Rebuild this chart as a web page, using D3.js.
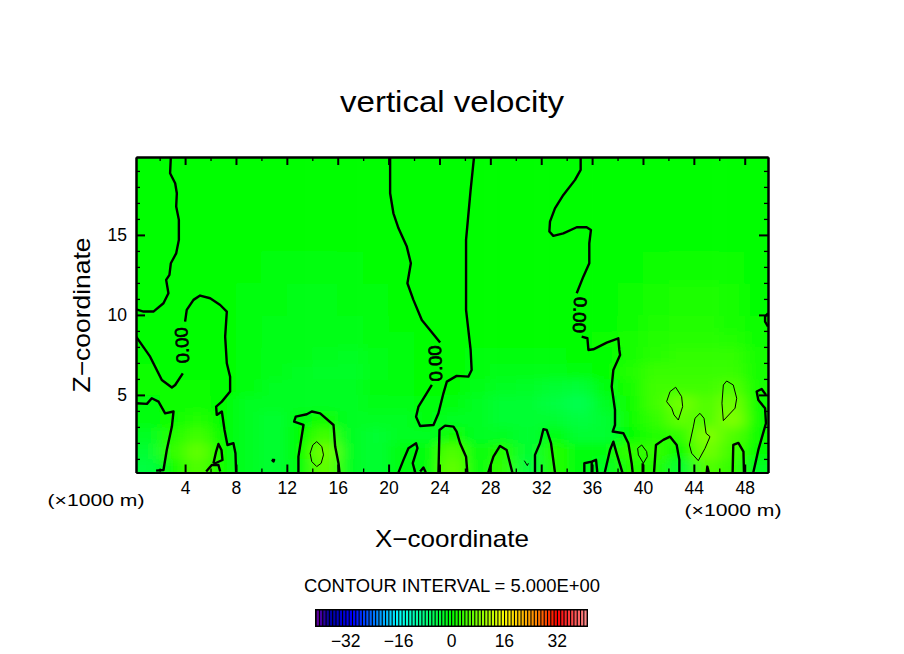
<!DOCTYPE html>
<html>
<head>
<meta charset="utf-8">
<script src="https://cdn.jsdelivr.net/npm/d3@7"></script>
<style>
  html, body { margin: 0; background: #fff; }
  text { font-family: "Liberation Sans", sans-serif; fill: #000; }
</style>
</head>
<body>
<script>
// w field, km. columns are 2 km wide, rows given by zEdges
var xCenters = [1,3,5,7,9,11,13,15,17,19,21,23,25,27,29,31,33,35,37,39,41,43,45,47,49];
var zEdges = [0,1,2,3,4,5,6,7,8,9,10,12,14,16,18,20];
var w_z00 = [-4,1,5,1,-2,-3,-1,6,-2,-3,-1,-1,6,-1,3,-4,2,-1,-2,2,2,-3,5,3,-2];
var w_z01 = [-3,3,6,1,-2,-3,0,7,-2,-3,-1,-1,5,-1,2,-3,2,-1,-1,3,3,0,7,4,0];
var w_z02 = [-2,2,4,0,-2,-3,0,4,-2,-3,-2,-2,1,-2,-2,-3,-1,-3,-3,0,2,3,8,5,1];
var w_z03 = [-1,1,2,0,-2,-3,-1,1,-2,-2,-2,-1,-2,-2,-3,-3,-3,-4,-3,1,3,6,5,8,1];
var w_z04 = [-0.5,1,1,0,-2,-2,-2,-2,-2,-1.5,-1.5,-0.5,-1,-2,-3,-3,-4,-5,-2,1,4,7,5,7,1];
var w_z05 = [0.5,0.5,0.5,0.2,-1,-2,-2,-2,-2,-1,-0.5,-0.3,0.3,-1.5,-2,-2.5,-3,-3.5,-1,1.5,4,4,4,5,1.5];
var w_z06 = [0.5,0.3,0.3,0.2,-1,-1.5,-2,-2.5,-2.5,-1.5,-0.5,-0.2,-0.3,-0.8,-1.5,-1.5,-1.5,-1,0.3,2,3.5,3.5,3.5,3.5,1.5];
var w_z07 = [0.2,0.3,0.3,0.2,-1,-1.5,-1.5,-1.8,-2,-1.2,-0.5,-0.2,-0.2,-0.5,-0.5,-0.5,-0.5,-0.3,0.3,1.5,2.5,3,3,3,1.5];
var w_z08 = [-0.1,0.2,0.3,0.2,-1,-1.2,-1.3,-1.5,-1.5,-1,-0.5,-0.2,0.2,-0.2,-0.2,-0.2,-0.2,-0.1,0.5,1.5,2.2,2.5,2.5,2.2,1];
var w_z09 = [-0.1,-0.1,0.2,0.1,-0.8,-1.1,-1.2,-1.2,-1.2,-0.8,-0.4,0.1,0.1,-0.1,-0.1,-0.1,-0.1,-0.1,0.3,1,1.8,2,2,1.5,0.5];
var w_z10 = [0.1,-0.1,-0.1,-0.4,-0.6,-1,-1.2,-1.2,-0.9,-0.5,-0.2,0.1,0.1,-0.1,-0.1,-0.1,-0.1,-0.1,0.2,0.7,1.4,1.6,1.6,1.2,0.3];
var w_z12 = [0.1,-0.1,-0.1,-0.2,-0.4,-0.7,-0.9,-0.8,-0.5,-0.4,-0.1,0.1,0.1,-0.1,-0.1,-0.1,-0.1,-0.1,0.1,0.3,0.7,0.9,0.9,0.5,0.2];
var w_z14 = [0,0,0,-0.1,-0.1,-0.2,-0.2,-0.2,-0.2,-0.1,0,0,0,0,0,0,0,0,0,0.1,0.1,0.1,0.1,0.1,0];
var w_z16 = [0,0,0,0,0,0,0,0,0,0,0,0,0,0,0,0,0,0,0,0,0,0,0,0,0];
var w_z18 = [0,0,0,0,0,0,0,0,0,0,0,0,0,0,0,0,0,0,0,0,0,0,0,0,0];
var wRows = [w_z00,w_z01,w_z02,w_z03,w_z04,w_z05,w_z06,w_z07,w_z08,w_z09,w_z10,w_z12,w_z14,w_z16,w_z18];

// contour lines [x km, z km]
var c0_topLeft = [[2.88,19.89],[2.82,18.85],[3.22,18.23],[3.35,17.6],[3.3,16.77],[3.51,15.94],[3.51,14.69],[3.3,13.85],[2.88,13.23],[2.77,12.5],[2.51,12.19],[2.69,11.35],[2.3,10.73],[1.51,10.21],[0.73,10.21],[0.15,10.35]];
var c0_loop = [[4,9.58],[4.13,10.31],[4.66,10.94],[5.18,11.21],[5.97,11.04],[6.76,10.62],[7.28,10.21],[7.15,8.64],[7.28,6.98],[7.54,6.14],[7.54,5.21],[6.89,4.58],[6.44,4.27],[6.49,3.75],[6.89,3.96],[7.1,2.81],[7.33,1.87],[7.8,1.98],[7.96,1.35],[8.01,0.16]];
var c0_left = [[0.15,8.64],[1.25,7.39],[2.17,5.93],[2.96,5.46],[3.22,5.62],[3.82,6.35]];
var c0_leftLow = [[0.15,4.48],[1,4.44],[1.38,4.79],[1.91,4.58],[2.43,3.85],[3.09,3.96],[2.96,3.02],[2.56,1.56],[2.3,0.31],[1.72,0.27]];
var c0_sliver = [[6.23,0.73],[6.44,1.46],[6.62,1.93],[6.86,1.56],[6.94,0.93],[6.23,0.68]];
var c0_sliverLow = [[5.66,0.21],[6.1,0.62],[6.62,0.62],[6.76,0.21]];
var c0_hump14 = [[12.91,0.16],[12.91,1.14],[13.31,3.12],[12.57,3.33],[12.7,3.64],[13.57,3.79],[13.96,3.96],[14.62,3.85],[15.67,3.12],[15.8,1.77],[16.06,0.73],[16.14,0.16]];
var c0_dot = [[10.82,0.94],[11,0.94],[10.95,0.84],[10.82,0.94]];
var c0_mid = [[20.12,19.89],[20.12,17.6],[20.38,16.35],[20.78,15.41],[21.43,14.27],[21.75,13.23],[21.48,11.98],[21.95,10.94],[22.61,9.68],[24.05,8.27]];
var c0_midLow = [[23.4,5.62],[22.35,4.27],[22.16,3.64],[22.48,3.06],[23.53,3.12],[23.92,3.85],[24.31,5.1],[24.58,5.83],[25.35,6.19],[26.27,6.14],[26.53,6.56],[26.45,7.81],[26.09,10.31],[26.09,14.69],[26.45,17.81],[26.72,19.89]];
var c0_hump25 = [[23.92,0.16],[24,2.81],[24.44,3.08],[25.1,3.02],[25.35,2.71],[25.62,1.98],[26.09,1.14],[26.19,0.16]];
var c0_hump21 = [[20.78,0.16],[21.17,0.94],[21.56,1.67],[22.16,1.98],[22.27,1.67],[21.9,0.73],[22.09,0.16]];
var c0_spike23 = [[22.48,0.21],[22.74,0.46],[22.92,0.16]];
var c0_hump29 = [[27.84,0.16],[28.24,1.14],[28.76,1.81],[29.28,1.56],[29.68,0.31],[29.73,0.16]];
var c0_hump32 = [[31.51,0.16],[31.51,1.25],[31.9,1.98],[32.17,2.85],[32.43,2.81],[32.77,1.98],[33.08,0.16]];
var c0_box35 = [[35.39,0.16],[35.39,0.73],[35.97,0.83],[36.31,0.94],[36.41,0.16]];
var c0_box35b = [[35.97,0.83],[35.97,0.16]];
var c0_right = [[35.1,19.89],[35.1,19.06],[34.66,18.44],[33.74,17.5],[33.08,16.66],[32.69,15.83],[32.64,15.21],[32.95,14.94],[33.74,15.1],[34.79,15.48],[35.57,15.48],[35.91,15.31],[35.78,14.48],[35.78,13.23],[35.31,12.39],[34.79,11.35]];
var c0_rightLow = [[35.18,8.64],[35.63,8.54],[35.71,7.81],[36.1,7.85],[37.15,8.27],[38.06,8.54],[38.14,7.81],[38.2,7.5],[37.67,6.56],[37.54,5.52],[37.8,4.06],[37.8,3.12],[37.62,2.71],[38.46,2.6],[38.85,1.98],[39.11,0.73],[39.19,0.16]];
var c0_hump37 = [[37,0.16],[37.41,1.56],[37.67,2.08],[37.93,1.35],[38.38,0.16]];
var c0_stub40 = [[39.98,0.16],[39.98,0.73]];
var c0_hump42 = [[40.87,0.16],[41.02,1.87],[41.6,2.19],[42.13,2.39],[42.65,1.87],[42.86,0.94],[42.86,0.16]];
var c0_spike45 = [[45.01,0.16],[45.06,0.52],[45.17,0.16]];
var c0_hump47 = [[47.05,0.16],[47.1,1.87],[47.5,2],[47.9,1.46],[47.94,0.16]];
var c0_edge = [[48.68,0.16],[49.07,1.56],[49.67,3.23],[49.6,4.16],[49.07,4.68],[48.94,5.21],[49.33,5.37],[49.67,5]];
var c0_edgeTop = [[49.83,10.1],[49.6,9.9],[49.6,9.58],[49.83,9.27]];
var zeroLines = [c0_topLeft,c0_loop,c0_left,c0_leftLow,c0_sliver,c0_sliverLow,c0_hump14,c0_dot,c0_mid,c0_midLow,c0_hump25,c0_hump21,c0_spike23,c0_hump29,c0_hump32,c0_box35,c0_box35b,c0_right,c0_rightLow,c0_hump37,c0_stub40,c0_hump42,c0_spike45,c0_hump47,c0_edge,c0_edgeTop];

var c5_14 = [[14.35,2.08],[14.75,1.77],[14.88,1.25],[14.7,0.73],[14.35,0.52],[13.96,0.83],[13.83,1.35],[14.04,1.87],[14.35,2.08]];
var c5_40 = [[39.9,1.87],[40.29,1.46],[40.34,1.14],[40.03,0.73],[39.64,1.25],[39.58,1.66],[39.9,1.87]];
var c5_42 = [[42.57,5.48],[43.04,4.89],[43.12,4.27],[42.78,3.43],[42.44,3.75],[42.26,4.17],[41.86,4.58],[42.13,5.21],[42.57,5.48]];
var c5_44 = [[44.48,3.85],[44.8,3.54],[44.96,2.6],[45.27,2.39],[44.88,1.66],[44.35,0.89],[43.83,1.35],[43.65,1.87],[43.96,3],[44.09,3.54],[44.48,3.85]];
var c5_46 = [[46.58,5.87],[47.1,5.62],[47.37,4.79],[47.24,4.17],[46.32,3.39],[46.21,4.48],[46.32,5.62],[46.58,5.87]];
var c5_31 = [[30.67,0.89],[30.91,0.58],[30.99,0.73]];
var fiveLines = [c5_14,c5_40,c5_42,c5_44,c5_46,c5_31];

// rotated line labels: x km, z km, angle
var labelX = [3.74,23.66,35.05];
var labelZ = [8.1,6.97,10];
var labelAngle = [-93,-92,92];

var xMajor = [4,8,12,16,20,24,28,32,36,40,44,48];
var xMinor = [2,6,10,14,18,22,26,30,34,38,42,46];
var zMajor = [5,10,15];
var zMinor = [1,2,3,4,6,7,8,9,11,12,13,14,16,17,18,19];
var barLevels = d3.range(-41, 41);
var barTicks = [-32,-16,0,16,32];
var colorStops = [-41,-37,-30,-16,0,16,26,32,41];
var colorNames = ["#6a00a0","#0000a0","#0000ff","#00ffff","#00ff00","#ffff00","#ff8000","#ff0000","#ff9090"];

var width = 904, height = 654;
var svg = d3.select("body").append("svg")
  .attr("width", width).attr("height", height)
  .style("display", "block");

var x = d3.scaleLinear().domain([0.14, 49.83]).range([136, 768]);
var y = d3.scaleLinear().domain([0.15, 19.87]).range([472.5, 157]);
var color = d3.scaleLinear().domain(colorStops).range(colorNames);

var defs = svg.append("defs");
defs.append("clipPath").attr("id", "plot_clip").append("rect")
  .attr("x", x.range()[0]).attr("y", y.range()[1])
  .attr("width", x.range()[1] - x.range()[0])
  .attr("height", y.range()[0] - y.range()[1]);
defs.append("filter").attr("id", "smooth")
  .attr("filterUnits", "userSpaceOnUse")
  .attr("x", 0).attr("y", 0).attr("width", width).attr("height", height)
  .append("feGaussianBlur").attr("stdDeviation", "8 5");

// field: cells are blurred, outer cells run past the frame so the edge stays solid
var field = svg.append("g").attr("clip-path", "url(#plot_clip)")
  .append("g").attr("filter", "url(#smooth)");

wRows.forEach(function(row, j) {
  var z0 = j == 0 ? -4 : zEdges[j];
  var z1 = j == wRows.length - 1 ? 24 : zEdges[j + 1];
  field.selectAll(null)
    .data(row)
    .enter().append("rect")
      .attr("x", function(d, i) { return x(i == 0 ? -6 : xCenters[i] - 1); })
      .attr("width", function(d, i) {
        var hi = i == row.length - 1 ? 56 : xCenters[i] + 1;
        return x(hi) - x(i == 0 ? -6 : xCenters[i] - 1) + 0.5;
      })
      .attr("y", y(z1))
      .attr("height", y(z0) - y(z1) + 0.5)
      .attr("fill", function(d) { return color(d); });
});

// contours
var line = d3.line()
  .x(function(d) { return x(d[0]); })
  .y(function(d) { return y(d[1]); });

var contours = svg.append("g").attr("clip-path", "url(#plot_clip)")
  .attr("fill", "none").attr("stroke", "#000").attr("stroke-linejoin", "round");
contours.selectAll(".zero").data(zeroLines)
  .enter().append("path").attr("class", "zero")
    .attr("d", line).attr("stroke-width", 2.4);
contours.selectAll(".five").data(fiveLines)
  .enter().append("path").attr("class", "five")
    .attr("d", line).attr("stroke-width", 1);

svg.append("g").selectAll("text").data(labelX)
  .enter().append("text")
    .attr("transform", function(d, i) {
      return "translate(" + x(d) + "," + y(labelZ[i]) + ") rotate(" + labelAngle[i] + ")";
    })
    .attr("text-anchor", "middle")
    .attr("dy", "0.36em")
    .attr("textLength", 36)
    .attr("lengthAdjust", "spacingAndGlyphs")
    .style("font-size", "18px")
    .style("stroke", "#000")
    .style("stroke-width", 0.7)
    .text("0.00");

// axes, ticks point into the plot
function draw_axis(maker, scale, values, size, labelled, pos, stroke) {
  var axis = maker(scale).tickValues(values).tickSize(-size).tickSizeOuter(0).tickPadding(labelled ? 9 : 0);
  if(!labelled) axis.tickFormat("");
  var g = svg.append("g").attr("transform", pos).call(axis);
  g.selectAll("path").attr("stroke", "#000").attr("stroke-width", 2);
  g.selectAll("line").attr("stroke", "#000").attr("stroke-width", stroke);
  g.selectAll("text").style("font-size", "17.5px").style("font-family", "Liberation Sans");
}
draw_axis(d3.axisBottom, x, xMajor, 8, true, "translate(0,472.5)", 2);
draw_axis(d3.axisBottom, x, xMinor, 4, false, "translate(0,472.5)", 1.3);
draw_axis(d3.axisTop, x, xMajor, 8, false, "translate(0,157)", 2);
draw_axis(d3.axisTop, x, xMinor, 4, false, "translate(0,157)", 1.3);
draw_axis(d3.axisLeft, y, zMajor, 9, true, "translate(136,0)", 2);
draw_axis(d3.axisLeft, y, zMinor, 4, false, "translate(136,0)", 1.3);
draw_axis(d3.axisRight, y, zMajor, 9, false, "translate(768,0)", 2);
draw_axis(d3.axisRight, y, zMinor, 4, false, "translate(768,0)", 1.3);

// text
function add_text(str, px, py, size, len, rot) {
  var t = svg.append("text")
    .attr("x", px).attr("y", py)
    .attr("text-anchor", "middle")
    .style("font-size", size + "px")
    .text(str);
  if(len) t.attr("textLength", len).attr("lengthAdjust", "spacingAndGlyphs");
  if(rot) t.attr("transform", "rotate(" + rot + "," + px + "," + py + ")");
}
add_text("vertical velocity", 452, 112, 29, 224);
add_text("X\u2212coordinate", 452, 547, 24, 154);
add_text("Z\u2212coordinate", 90, 315, 24, 155, -90);
add_text("(\u00d71000 m)", 96, 506, 17, 97);
add_text("(\u00d71000 m)", 733, 516, 17, 97);
add_text("CONTOUR INTERVAL = 5.000E+00", 452, 592, 17.5, 296);

// colour bar
var barX = d3.scaleLinear().domain([-41, 41]).range([316, 587]);
var bar = svg.append("g");
bar.append("rect")
  .attr("x", 315).attr("y", 609).attr("width", 273).attr("height", 18)
  .attr("fill", "#000");
bar.selectAll(".level").data(barLevels)
  .enter().append("rect")
    .attr("class", "level")
    .attr("x", function(d) { return barX(d) + 0.7; })
    .attr("y", 610.5)
    .attr("width", 2.2)
    .attr("height", 15)
    .attr("fill", function(d) { return color(d + 0.5); });
bar.selectAll(".bar_tick").data(barTicks)
  .enter().append("text")
    .attr("class", "bar_tick")
    .attr("x", function(d) { return barX(d); })
    .attr("y", 647)
    .attr("text-anchor", "middle")
    .style("font-size", "17.5px")
    .text(function(d) { return d < 0 ? "\u2212" + Math.abs(d) : d; });
</script>
</body>
</html>
